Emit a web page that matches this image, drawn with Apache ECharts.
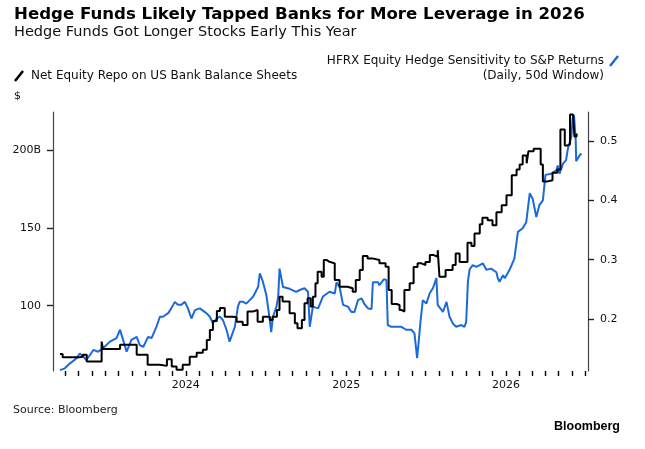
<!DOCTYPE html>
<html>
<head>
<meta charset="utf-8">
<script src="https://cdn.jsdelivr.net/npm/echarts@6.0.0/dist/echarts.min.js"></script>
<style>
    html, body { margin: 0; padding: 0; background: #fff; }
    #chart { width: 645px; height: 449px; }
</style>
</head>
<body>
<div id="chart"></div>
<script>
// Net equity repo on US bank balance sheets ($B), weekly steps
var repoDates = ['2023-03-20','2023-03-26','2023-05-04','2023-05-11','2023-05-20','2023-06-23','2023-06-26','2023-08-04','2023-09-11','2023-10-06',
    '2023-11-03','2023-11-19','2023-11-30','2023-12-11','2023-12-25','2024-01-10','2024-01-26','2024-02-09','2024-02-18','2024-02-25',
    '2024-03-03','2024-03-12','2024-03-19','2024-03-30','2024-04-17','2024-04-26','2024-05-10','2024-05-21','2024-06-02','2024-06-13',
    '2024-06-25','2024-07-11','2024-07-17','2024-07-27','2024-08-02','2024-08-09','2024-08-25','2024-09-06','2024-09-12','2024-09-22',
    '2024-09-28','2024-10-05','2024-10-12','2024-10-17','2024-10-23','2024-10-28','2024-11-06','2024-11-11','2024-11-18','2024-11-24',
    '2024-12-06','2024-12-17','2025-01-04','2025-01-16','2025-01-23','2025-02-01','2025-02-08','2025-02-19','2025-03-02','2025-03-18',
    '2025-04-01','2025-04-08','2025-04-15','2025-04-26','2025-05-03','2025-05-08','2025-05-14','2025-05-26','2025-06-04','2025-06-13',
    '2025-06-22','2025-07-01','2025-07-11','2025-07-20','2025-07-29','2025-08-02','2025-08-16','2025-09-01','2025-09-08','2025-09-17',
    '2025-10-05','2025-10-14','2025-10-21','2025-11-02','2025-11-08','2025-11-20','2025-12-01','2025-12-10','2025-12-22','2026-01-02',
    '2026-01-14','2026-01-25','2026-02-01','2026-02-08','2026-02-17','2026-02-21','2026-03-05','2026-03-21','2026-03-26','2026-04-06',
    '2026-04-17','2026-04-28','2026-05-05','2026-05-15','2026-05-21','2026-05-27','2026-06-03','2026-06-06','2026-06-11'];
var repoValues = [69.0, 66.9, 67.1, 68.4, 64.1, 76.9, 72.1, 74.8, 68.4, 62.0,
    61.3, 65.6, 60.9, 58.8, 62.0, 67.1, 69.7, 71.6, 78.0, 84.4,
    90.2, 96.6, 98.5, 92.9, 92.6, 89.7, 87.6, 96.2, 97.2, 89.7,
    92.9, 90.8, 92.9, 97.2, 105.8, 102.6, 95.1, 88.7, 85.5, 90.8,
    101.5, 104.7, 99.4, 105.8, 114.4, 121.8, 118.6, 129.3, 128.2, 127.2,
    116.5, 112.2, 111.2, 109.0, 116.5, 122.9, 131.9, 130.4, 129.3, 127.2,
    125.0, 110.1, 101.1, 100.4, 97.2, 96.2, 110.1, 114.4, 124.8, 127.2,
    126.1, 128.0, 132.5, 131.4, 135.7, 118.6, 122.9, 126.1, 133.6, 128.0,
    140.5, 138.3, 146.4, 152.4, 156.5, 154.9, 151.7, 160.1, 164.5, 171.0,
    183.8, 187.6, 190.8, 196.6, 191.5, 199.2, 200.9, 190.8, 179.9, 180.6,
    185.4, 187.6, 213.3, 203.0, 203.7, 222.9, 222.2, 208.8, 210.7];

// HFRX Equity Hedge sensitivity to S&P returns (daily, 50d window)
var hfrxDates = ['2023-03-20','2023-03-31','2023-04-11','2023-04-27','2023-05-04','2023-05-12','2023-05-19','2023-05-27','2023-06-04','2023-06-15',
    '2023-06-26','2023-07-12','2023-07-27','2023-08-04','2023-08-11','2023-08-19','2023-08-30','2023-09-11','2023-09-18','2023-09-26',
    '2023-10-07','2023-10-15','2023-10-26','2023-11-03','2023-11-10','2023-11-22','2023-11-29','2023-12-07','2023-12-14','2023-12-22',
    '2023-12-30','2024-01-06','2024-01-14','2024-01-22','2024-02-02','2024-02-17','2024-02-25','2024-03-03','2024-03-11','2024-03-19',
    '2024-03-26','2024-04-03','2024-04-10','2024-04-14','2024-04-22','2024-04-29','2024-05-03','2024-05-11','2024-05-18','2024-05-26',
    '2024-06-03','2024-06-06','2024-06-14','2024-06-18','2024-06-25','2024-07-03','2024-07-11','2024-07-14','2024-07-18','2024-07-26',
    '2024-07-30','2024-08-02','2024-08-10','2024-08-25','2024-09-09','2024-09-17','2024-09-28','2024-10-06','2024-10-10','2024-10-17',
    '2024-10-29','2024-11-09','2024-11-24','2024-12-06','2024-12-10','2024-12-17','2024-12-25','2025-01-05','2025-01-13','2025-01-20',
    '2025-01-28','2025-02-05','2025-02-12','2025-02-20','2025-02-28','2025-03-03','2025-03-07','2025-03-15','2025-03-18','2025-03-28',
    '2025-04-03','2025-04-06','2025-04-14','2025-04-26','2025-05-07','2025-05-18','2025-05-30','2025-06-06','2025-06-12','2025-06-16',
    '2025-06-20','2025-06-25','2025-07-03','2025-07-11','2025-07-18','2025-07-26','2025-07-29','2025-08-02','2025-08-10','2025-08-18',
    '2025-08-25','2025-09-02','2025-09-09','2025-09-21','2025-09-28','2025-10-02','2025-10-06','2025-10-10','2025-10-17','2025-10-25',
    '2025-11-02','2025-11-09','2025-11-17','2025-11-28','2025-12-10','2025-12-13','2025-12-17','2025-12-25','2025-12-29','2026-01-09',
    '2026-01-20','2026-01-28','2026-02-08','2026-02-16','2026-02-24','2026-03-03','2026-03-11','2026-03-18','2026-03-26','2026-04-01',
    '2026-04-14','2026-04-26','2026-04-29','2026-05-03','2026-05-11','2026-05-18','2026-05-22','2026-05-26','2026-05-30','2026-06-02',
    '2026-06-05','2026-06-09','2026-06-10','2026-06-18','2026-06-22'];
var hfrxValues = [0.114, 0.117, 0.125, 0.134, 0.142, 0.137, 0.131, 0.139, 0.148, 0.145,
    0.151, 0.162, 0.168, 0.182, 0.165, 0.145, 0.165, 0.170, 0.156, 0.153,
    0.170, 0.168, 0.187, 0.204, 0.204, 0.210, 0.218, 0.229, 0.224, 0.224,
    0.229, 0.218, 0.201, 0.215, 0.218, 0.210, 0.204, 0.193, 0.201, 0.204,
    0.198, 0.182, 0.162, 0.165, 0.187, 0.221, 0.229, 0.229, 0.226, 0.232,
    0.238, 0.240, 0.254, 0.277, 0.263, 0.240, 0.198, 0.178, 0.204, 0.221,
    0.238, 0.285, 0.254, 0.251, 0.246, 0.249, 0.252, 0.246, 0.187, 0.221,
    0.218, 0.238, 0.246, 0.243, 0.262, 0.254, 0.224, 0.221, 0.212, 0.212,
    0.232, 0.235, 0.225, 0.218, 0.217, 0.262, 0.263, 0.262, 0.257, 0.267,
    0.266, 0.190, 0.187, 0.187, 0.187, 0.182, 0.182, 0.176, 0.134, 0.165,
    0.198, 0.232, 0.226, 0.244, 0.252, 0.269, 0.224, 0.224, 0.212, 0.229,
    0.204, 0.192, 0.187, 0.190, 0.187, 0.195, 0.264, 0.284, 0.291, 0.288,
    0.291, 0.294, 0.283, 0.285, 0.279, 0.269, 0.263, 0.274, 0.269, 0.283,
    0.302, 0.347, 0.353, 0.363, 0.412, 0.402, 0.372, 0.392, 0.400, 0.443,
    0.445, 0.451, 0.459, 0.445, 0.462, 0.468, 0.487, 0.487, 0.507, 0.538,
    0.544, 0.501, 0.466, 0.476, 0.479];

// axis ticks and labels
var leftTicks = [100, 150, 200];
var leftLabels = ['100', '150', '200B'];
var rightTicks = [0.2, 0.3, 0.4, 0.5];
var rightLabels = ['0.2', '0.3', '0.4', '0.5'];
var yearTicks = ['2024-01-01', '2025-01-01', '2026-01-01'];
var yearLabels = ['2024', '2025', '2026'];
var xStart = '2023-03-04';
var xEnd = '2026-07-07';

var FONT = '"DejaVu Sans", sans-serif';

function toTime(s) {
    var p = s.split('-');
    return Date.UTC(+p[0], +p[1] - 1, +p[2]);
}

// monthly minor ticks along the date axis
var monthTicks = [];
for (var y = 2023; y <= 2026; y++) {
    for (var m = 0; m < 12; m++) {
        monthTicks.push(Date.UTC(y, m, 1));
    }
}
var yearTimes = yearTicks.map(toTime);

var repoSeries = repoDates.map(function (d, i) { return [toTime(d), repoValues[i]]; });
var hfrxSeries = hfrxDates.map(function (d, i) { return [toTime(d), hfrxValues[i]]; });

var myChart = echarts.init(document.getElementById('chart'), null, { renderer: 'canvas' });
var option = {
    animation: false,
    backgroundColor: '#fff',
    grid: {
        left: 53,
        right: 57,
        top: 112,
        bottom: 78,
        outerBoundsMode: 'none'
    },
    xAxis: {
        type: 'value',
        min: toTime(xStart),
        max: toTime(xEnd),
        axisLine: { show: true, onZero: false, lineStyle: { color: 'rgba(0,0,0,0)' } },
        splitLine: { show: false },
        axisTick: {
            show: true,
            length: 5,
            customValues: monthTicks,
            lineStyle: { color: '#000', width: 1.4 }
        },
        axisLabel: {
            customValues: yearTimes,
            margin: 9,
            color: '#111',
            fontFamily: FONT,
            fontSize: 11,
            formatter: function (v) {
                var idx = yearTimes.indexOf(v);
                return idx >= 0 ? yearLabels[idx] : String(new Date(v).getUTCFullYear());
            }
        }
    },
    yAxis: [
        {
            type: 'value',
            position: 'left',
            min: 58,
            max: 224.5,
            splitLine: { show: false },
            axisLine: { show: true, lineStyle: { color: '#444', width: 1.2 } },
            axisTick: {
                show: true,
                length: 6,
                customValues: leftTicks,
                lineStyle: { color: '#222', width: 1.4 }
            },
            axisLabel: {
                customValues: leftTicks,
                margin: 12,
                color: '#111',
                fontFamily: FONT,
                fontSize: 11,
                formatter: function (v) {
                    var idx = leftTicks.indexOf(v);
                    return idx >= 0 ? leftLabels[idx] : String(v);
                }
            }
        },
        {
            type: 'value',
            position: 'right',
            min: 0.1125,
            max: 0.549,
            splitLine: { show: false },
            axisLine: { show: true, lineStyle: { color: '#444', width: 1.2 } },
            axisTick: {
                show: true,
                length: 6,
                customValues: rightTicks,
                lineStyle: { color: '#222', width: 1.4 }
            },
            axisLabel: {
                customValues: rightTicks,
                margin: 12,
                color: '#111',
                fontFamily: FONT,
                fontSize: 11,
                formatter: function (v) {
                    for (var i = 0; i < rightTicks.length; i++) {
                        if (Math.abs(rightTicks[i] - v) < 1e-6) return rightLabels[i];
                    }
                    return String(v);
                }
            }
        }
    ],
    graphic: [
        { type: 'text', x: 14, y: 14.5, style: { text: 'Hedge Funds Likely Tapped Banks for More Leverage in 2026', font: 'bold 16.6px ' + FONT, fill: '#000', verticalAlign: 'middle', textVerticalAlign: 'middle' } },
        { type: 'text', x: 14, y: 32, style: { text: 'Hedge Funds Got Longer Stocks Early This Year', font: '14.5px ' + FONT, fill: '#111', verticalAlign: 'middle', textVerticalAlign: 'middle' } },
        // right legend: blue series
        { type: 'text', x: 604, y: 61, style: { text: 'HFRX Equity Hedge Sensitivity to S&P Returns', font: '12px ' + FONT, fill: '#111', align: 'right', textAlign: 'right', verticalAlign: 'middle', textVerticalAlign: 'middle' } },
        { type: 'text', x: 604, y: 76, style: { text: '(Daily, 50d Window)', font: '12px ' + FONT, fill: '#111', align: 'right', textAlign: 'right', verticalAlign: 'middle', textVerticalAlign: 'middle' } },
        { type: 'line', shape: { x1: 610, y1: 66, x2: 618, y2: 56 }, style: { stroke: '#1b6ad8', lineWidth: 2.5 } },
        // left legend: black series
        { type: 'line', shape: { x1: 15, y1: 81, x2: 23, y2: 71 }, style: { stroke: '#000', lineWidth: 2.5 } },
        { type: 'text', x: 31, y: 76, style: { text: 'Net Equity Repo on US Bank Balance Sheets', font: '12px ' + FONT, fill: '#111', verticalAlign: 'middle', textVerticalAlign: 'middle' } },
        { type: 'text', x: 14, y: 96, style: { text: '$', font: '11px ' + FONT, fill: '#111', verticalAlign: 'middle', textVerticalAlign: 'middle' } },
        { type: 'text', x: 13, y: 410, style: { text: 'Source: Bloomberg', font: '11px ' + FONT, fill: '#222', verticalAlign: 'middle', textVerticalAlign: 'middle' } },
        { type: 'text', x: 620, y: 427, style: { text: 'Bloomberg', font: 'bold 12.5px "Liberation Sans", Arial, sans-serif', fill: '#000', align: 'right', textAlign: 'right', verticalAlign: 'middle', textVerticalAlign: 'middle' } }
    ],
    series: [
        {
            name: 'HFRX Equity Hedge Sensitivity to S&P Returns',
            type: 'line',
            yAxisIndex: 1,
            symbol: 'none',
            data: hfrxSeries,
            lineStyle: { color: '#1b6ad8', width: 2 },
            z: 2
        },
        {
            name: 'Net Equity Repo on US Bank Balance Sheets',
            type: 'line',
            yAxisIndex: 0,
            step: 'end',
            symbol: 'none',
            data: repoSeries,
            lineStyle: { color: '#000', width: 2 },
            z: 3
        }
    ]
};
myChart.setOption(option);
window.addEventListener('resize', function () {
    myChart.resize();
});
</script>
</body>
</html>
